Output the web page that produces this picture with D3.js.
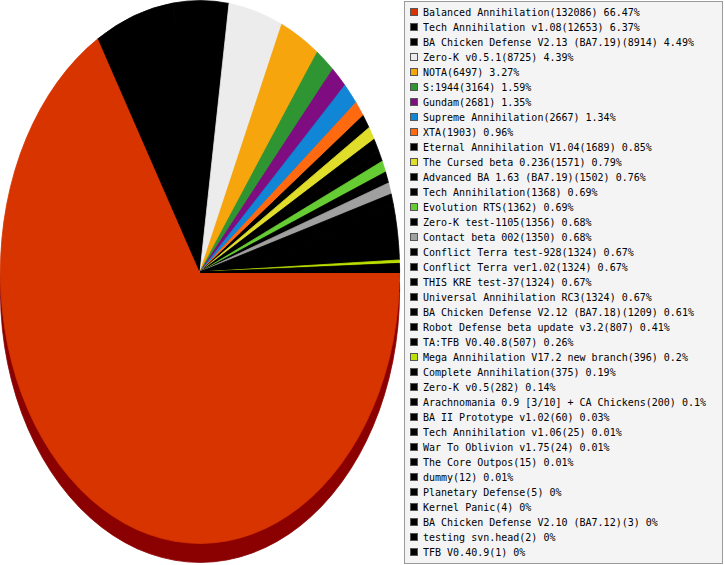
<!DOCTYPE html>
<html>
<head>
<meta charset="utf-8">
<script src="https://cdn.jsdelivr.net/npm/d3@7"></script>
<style>
  html, body { margin: 0; padding: 0; background: #fff; }
  svg { display: block; }
</style>
</head>
<body>
<div id="chart"></div>
<script>
// mod names and player counts, in slice order
const names = [
  "Balanced Annihilation", "Tech Annihilation v1.08", "BA Chicken Defense V2.13 (BA7.19)",
  "Zero-K v0.5.1", "NOTA", "S:1944", "Gundam", "Supreme Annihilation", "XTA",
  "Eternal Annihilation V1.04", "The Cursed beta 0.236", "Advanced BA 1.63 (BA7.19)",
  "Tech Annihilation", "Evolution RTS", "Zero-K test-1105", "Contact beta 002",
  "Conflict Terra test-928", "Conflict Terra ver1.02", "THIS KRE test-37",
  "Universal Annihilation RC3", "BA Chicken Defense V2.12 (BA7.18)",
  "Robot Defense beta update v3.2", "TA:TFB V0.40.8", "Mega Annihilation V17.2 new branch",
  "Complete Annihilation", "Zero-K v0.5", "Arachnomania 0.9 [3/10] + CA Chickens",
  "BA II Prototype v1.02", "Tech Annihilation v1.06", "War To Oblivion v1.75",
  "The Core Outpos", "dummy", "Planetary Defense", "Kernel Panic",
  "BA Chicken Defense V2.10 (BA7.12)", "testing svn.head", "TFB V0.40.9"
];
const values = [
  132086, 12653, 8914, 8725, 6497, 3164, 2681, 2667, 1903,
  1689, 1571, 1502, 1368, 1362, 1356, 1350,
  1324, 1324, 1324, 1324, 1209,
  807, 507, 396, 375, 282, 200,
  60, 25, 24, 15, 12, 5, 4, 3, 2, 1
];
const colors = [
  "#d83400", "#000000", "#000000", "#ececec", "#f7a50c", "#2e9532", "#7f0c80", "#1185d6", "#ff6a10",
  "#000000", "#e0de2a", "#000000", "#000000", "#66cc33", "#000000", "#a0a0a0",
  "#000000", "#000000", "#000000", "#000000", "#000000",
  "#000000", "#000000", "#bde000", "#000000", "#000000", "#000000",
  "#000000", "#000000", "#000000", "#000000", "#000000", "#000000", "#000000", "#000000", "#000000", "#000000"
];

const width = 725, height = 565;
const cx = 200, cy = 272, rx = 200, ry = 272, depth = 19;

const svg = d3.select("#chart").append("svg")
    .attr("width", width)
    .attr("height", height);

const total = d3.sum(values);
const pctLabel = v => String(Math.round(v / total * 10000) / 100);

// start at 3 o'clock and go clockwise
const pie = d3.pie().sort(null).value(d => d)
    .startAngle(Math.PI / 2).endAngle(Math.PI / 2 + 2 * Math.PI);
const arcs = pie(values);
const arc = d3.arc().innerRadius(0).outerRadius(rx - 0.4);

function sideColor(c) {
  if (c === "#d83400") return "#8b0000";
  return d3.color(c).darker(1.5).formatHex();
}

// side / shadow first
svg.append("g")
    .attr("transform", `translate(${cx},${cy + depth}) scale(1,${ry / rx})`)
  .selectAll("path")
  .data(arcs)
  .enter().append("path")
    .attr("d", arc)
    .attr("fill", (d, i) => sideColor(colors[i]))
    .attr("stroke", (d, i) => sideColor(colors[i]))
    .attr("stroke-width", 0.8)
    .attr("vector-effect", "non-scaling-stroke");

// top face (same-colour stroke hides the seams between slices)
svg.append("g")
    .attr("transform", `translate(${cx},${cy}) scale(1,${ry / rx})`)
  .selectAll("path")
  .data(arcs)
  .enter().append("path")
    .attr("d", arc)
    .attr("fill", (d, i) => colors[i])
    .attr("stroke", (d, i) => colors[i])
    .attr("stroke-width", 0.8)
    .attr("stroke-linejoin", "round")
    .attr("vector-effect", "non-scaling-stroke");

// legend
const legend = svg.append("g");
legend.append("rect")
    .attr("x", 404.5).attr("y", 1.5)
    .attr("width", 318).attr("height", 562)
    .attr("fill", "#f4f4f4")
    .attr("stroke", "#9a9a9a");

const rowY = d3.scalePoint().domain(d3.range(names.length)).range([12, 552]);

const row = legend.selectAll("g.item")
  .data(names)
  .enter().append("g")
    .attr("class", "item")
    .attr("transform", (d, i) => `translate(0,${rowY(i)})`);

row.append("rect")
    .attr("x", 410.5).attr("y", -3.5)
    .attr("width", 7).attr("height", 7)
    .attr("fill", (d, i) => colors[i])
    .attr("stroke", "#555");

row.append("text")
    .attr("x", 423)
    .attr("y", 3.7)
    .attr("font-family", "DejaVu Sans Mono, monospace")
    .attr("font-size", "10px")
    .attr("fill", "#000")
    .text((d, i) => d + "(" + values[i] + ") " + pctLabel(values[i]) + "%");
</script>
</body>
</html>
